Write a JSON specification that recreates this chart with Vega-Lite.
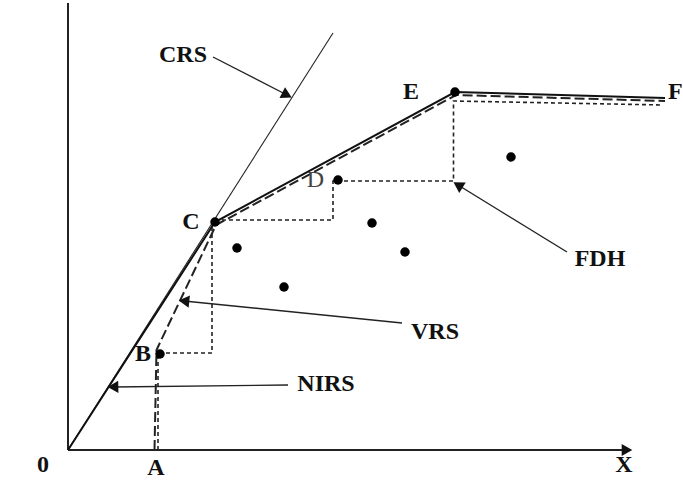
{
  "$schema": "https://vega.github.io/schema/vega-lite/v6.json",
  "width": 683,
  "height": 495,
  "autosize": "none",
  "padding": 0,
  "background": "white",
  "config": {
    "view": {"stroke": null},
    "text": {"font": "Liberation Serif", "fontSize": 24, "fontWeight": "bold", "color": "#111"}
  },
  "datasets": {
    "axes": [
      {"x": 0, "y": 0, "x2": 55.6, "y2": 0},
      {"x": 0, "y": 0, "x2": 0, "y2": 44.7}
    ],
    "crs": [
      {"i": 0, "x": 0, "y": 0},
      {"i": 1, "x": 26.5, "y": 41.7}
    ],
    "nirs": [
      {"i": 0, "x": 0, "y": 0},
      {"i": 1, "x": 14.7, "y": 22.8},
      {"i": 2, "x": 38.7, "y": 35.8},
      {"i": 3, "x": 59.7, "y": 35.2}
    ],
    "vrs": [
      {"i": 0, "x": 8.65, "y": 0},
      {"i": 1, "x": 8.85, "y": 10.0},
      {"i": 2, "x": 14.8, "y": 22.5},
      {"i": 3, "x": 38.8, "y": 35.5},
      {"i": 4, "x": 59.7, "y": 34.9}
    ],
    "fdh": [
      {"i": 0, "x": 9.0, "y": 0},
      {"i": 1, "x": 9.0, "y": 9.7},
      {"i": 2, "x": 14.4, "y": 9.7},
      {"i": 3, "x": 14.4, "y": 23.0},
      {"i": 4, "x": 26.5, "y": 23.0},
      {"i": 5, "x": 26.5, "y": 26.9},
      {"i": 6, "x": 38.55, "y": 26.9},
      {"i": 7, "x": 38.55, "y": 34.9},
      {"i": 8, "x": 59.5, "y": 34.5}
    ],
    "units": [
      {"name": "B", "x": 9.2, "y": 9.6},
      {"name": "C", "x": 14.7, "y": 22.8},
      {"name": "D", "x": 27.0, "y": 27.0},
      {"name": "E", "x": 38.7, "y": 35.8},
      {"name": "", "x": 16.9, "y": 20.2},
      {"name": "", "x": 21.6, "y": 16.3},
      {"name": "", "x": 30.4, "y": 22.7},
      {"name": "", "x": 33.7, "y": 19.8},
      {"name": "", "x": 44.3, "y": 29.3}
    ],
    "pointers": [
      {"label": "CRS", "x": 14.5, "y": 39.3, "x2": 21.9, "y2": 35.5, "heading": 117},
      {"label": "FDH", "x": 49.9, "y": 19.8, "x2": 39.0, "y2": 26.5, "heading": 302},
      {"label": "VRS", "x": 33.4, "y": 12.7, "x2": 11.6, "y2": 14.9, "heading": 276},
      {"label": "NIRS", "x": 22.0, "y": 6.5, "x2": 4.5, "y2": 6.3, "heading": 269},
      {"label": "X", "x": 55.0, "y": 0, "x2": 55.9, "y2": 0, "heading": 90}
    ],
    "labels": [
      {"text": "CRS", "x": 11.5, "y": 39.5},
      {"text": "NIRS", "x": 25.8, "y": 6.6},
      {"text": "VRS", "x": 36.7, "y": 11.8},
      {"text": "FDH", "x": 53.2, "y": 19.1},
      {"text": "B", "x": 7.5, "y": 9.6},
      {"text": "C", "x": 12.3, "y": 22.8},
      {"text": "E", "x": 34.3, "y": 35.8},
      {"text": "0", "x": -2.5, "y": -1.5},
      {"text": "A", "x": 8.8, "y": -1.8},
      {"text": "X", "x": 55.6, "y": -1.5}
    ],
    "thin": [
      {"text": "D", "x": 24.75, "y": 27.0}
    ],
    "edge": [
      {"text": "F", "x": 60.0, "y": 35.8}
    ]
  },
  "encoding": {
    "x": {"field": "x", "type": "quantitative", "scale": {"domain": [-6.8, 61.5], "nice": false, "zero": false}, "axis": null},
    "y": {"field": "y", "type": "quantitative", "scale": {"domain": [-4.5, 45.0], "nice": false, "zero": false}, "axis": null}
  },
  "layer": [
    {
      "data": {"name": "axes"},
      "mark": {"type": "rule", "color": "#222", "strokeWidth": 2},
      "encoding": {"x2": {"field": "x2"}, "y2": {"field": "y2"}}
    },
    {
      "data": {"name": "crs"},
      "mark": {"type": "line", "color": "#222", "strokeWidth": 1.1},
      "encoding": {"order": {"field": "i"}}
    },
    {
      "data": {"name": "fdh"},
      "mark": {"type": "line", "color": "#222", "strokeWidth": 1.6, "strokeDash": [4, 3]},
      "encoding": {"order": {"field": "i"}}
    },
    {
      "data": {"name": "vrs"},
      "mark": {"type": "line", "color": "#222", "strokeWidth": 2, "strokeDash": [10, 4]},
      "encoding": {"order": {"field": "i"}}
    },
    {
      "data": {"name": "nirs"},
      "mark": {"type": "line", "color": "#111", "strokeWidth": 2},
      "encoding": {"order": {"field": "i"}}
    },
    {
      "data": {"name": "pointers"},
      "mark": {"type": "rule", "color": "#222", "strokeWidth": 1.4},
      "encoding": {"x2": {"field": "x2"}, "y2": {"field": "y2"}}
    },
    {
      "data": {"name": "pointers"},
      "mark": {"type": "point", "shape": "triangle-up", "filled": true, "color": "#111", "size": 150, "opacity": 1},
      "encoding": {
        "x": {"field": "x2", "type": "quantitative"},
        "y": {"field": "y2", "type": "quantitative"},
        "angle": {"field": "heading", "type": "quantitative", "scale": null}
      }
    },
    {
      "data": {"name": "units"},
      "mark": {"type": "circle", "color": "#000", "size": 90, "opacity": 1}
    },
    {
      "data": {"name": "labels"},
      "mark": {"type": "text", "align": "center", "baseline": "middle"},
      "encoding": {"text": {"field": "text"}}
    },
    {
      "data": {"name": "thin"},
      "mark": {"type": "text", "align": "center", "baseline": "middle", "fontWeight": "normal", "color": "#444"},
      "encoding": {"text": {"field": "text"}}
    },
    {
      "data": {"name": "edge"},
      "mark": {"type": "text", "align": "left", "baseline": "middle"},
      "encoding": {"text": {"field": "text"}}
    }
  ]
}
